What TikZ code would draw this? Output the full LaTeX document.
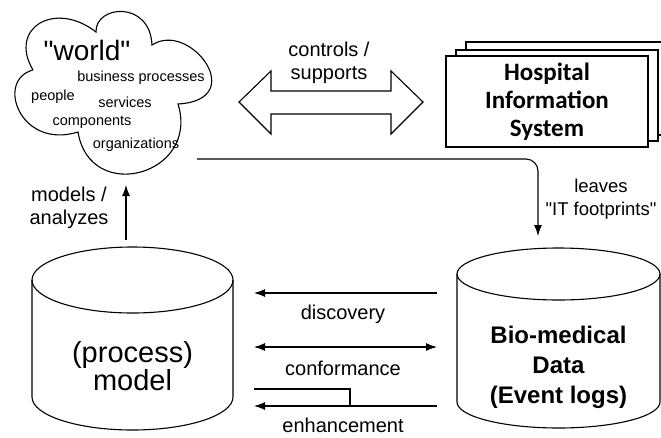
\documentclass[tikz,border=0pt]{standalone}
\usepackage{fontspec}
\setmainfont{Liberation Sans}
\newfontfamily\hisfont{Carlito}
\usetikzlibrary{calc,positioning,arrows.meta}

\begin{document}
\begin{tikzpicture}[x=1pt,y=-1pt,line width=1.1pt,
        lbl/.style={align=center,font=\fontsize{20}{23}\selectfont},
        cloudtxt/.style={font=\fontsize{14.5}{16}\selectfont},
        flow/.style={-{Latex[length=11pt,width=8pt]}}]
        \clip (0,0) rectangle (661,437);

        % the world, five puffs
        \coordinate (n1) at (33,70);
        \coordinate (n2) at (78,132);
        \coordinate (n3) at (178,104);
        \coordinate (n4) at (152,45);
        \coordinate (n5) at (96,32);
        \draw (n1) .. controls (8,28) and (55,0) .. (n5)
              .. controls (95,5) and (150,0) .. (n4)
              .. controls (190,20) and (250,100) .. (n3)
              .. controls (200,175) and (90,205) .. (n2)
              .. controls (20,150) and (-5,80) .. (n1);
        \node[font=\fontsize{28}{30}\selectfont] (wname) at (87,50) {\textquotedbl world\textquotedbl};
        \node[cloudtxt] (bp) at (141,78) {business processes};
        \node[cloudtxt] (ppl) at (53,97) {people};
        \node[cloudtxt] (srv) at (125,102) {services};
        \node[cloudtxt] (cmp) at (92,122) {components};
        \node[cloudtxt] (org) at (136,145) {organizations};

        % controls / supports
        \draw (239,102) -- (271,71) -- (271,91) -- (391,91) -- (391,71) -- (423,102) -- (391,134) -- (391,114) -- (271,114) -- (271,134) -- cycle;
        \node[lbl] (ctrl) at (329,63) {controls /\\supports};

        % hospital information system
        \draw[fill=white] (466,42) rectangle (668,135);
        \draw[fill=white] (456,50) rectangle (658,141);
        \node[draw,fill=white,minimum width=202,minimum height=91,align=center,font=\hisfont\bfseries\fontsize{25}{28}\selectfont] (his) at (547,101.5) {Hospital\\Information\\System};

        % process model
        \draw (32,280) -- (32,397) arc[start angle=180,end angle=0,x radius=100.5,y radius=33] -- (233,280);
        \draw (132.5,280) ellipse[x radius=100.5,y radius=33];
        \node[align=center,font=\fontsize{29}{28}\selectfont] (model) at (132.5,366) {(process)\\model};

        % event logs
        \draw (457,274) -- (457,402) arc[start angle=180,end angle=0,x radius=101.5,y radius=26] -- (660,274);
        \draw (558.5,274) ellipse[x radius=101.5,y radius=26];
        \node[align=center,font=\bfseries\fontsize{24}{30}\selectfont] (logs) at (558.5,367) {Bio-medical\\Data\\(Event logs)};

        % models / analyzes
        \coordinate (up0) at (126,240);
        \coordinate (up1) at (126,185);
        \draw[flow] (up0) -- (up1);
        \node[lbl] (mdl) at (69,208) {models /\\analyzes};

        % IT footprints
        \coordinate (fp0) at (197,159);
        \coordinate (fp1) at (538,236);
        \draw[flow,rounded corners=12] (fp0) -| (fp1);
        \node[lbl,font=\fontsize{18.5}{23}\selectfont] (leave) at (601,199) {leaves\\\textquotedbl IT footprints\textquotedbl};

        % discovery, conformance, enhancement
        \coordinate (dsR) at (437,293);
        \coordinate (dsL) at (254,293);
        \coordinate (cfL) at (254,347);
        \coordinate (cfR) at (437,347);
        \coordinate (enR) at (437,406);
        \coordinate (enL) at (254,406);
        \coordinate (enA) at (254,389);
        \coordinate (enB) at (350,406);
        \draw[flow] (dsR) -- (dsL);
        \draw[{Latex[length=11pt,width=8pt]}-{Latex[length=11pt,width=8pt]}] (cfL) -- (cfR);
        \draw[flow] (enR) -- (enL);
        \draw (enA) -| (enB);
        \node[lbl] (disc) at (343,314) {discovery};
        \node[lbl] (conf) at (343,368) {conformance};
        \node[lbl,inner sep=1pt] (enh) at (343,425) {enhancement};
\end{tikzpicture}
\end{document}
